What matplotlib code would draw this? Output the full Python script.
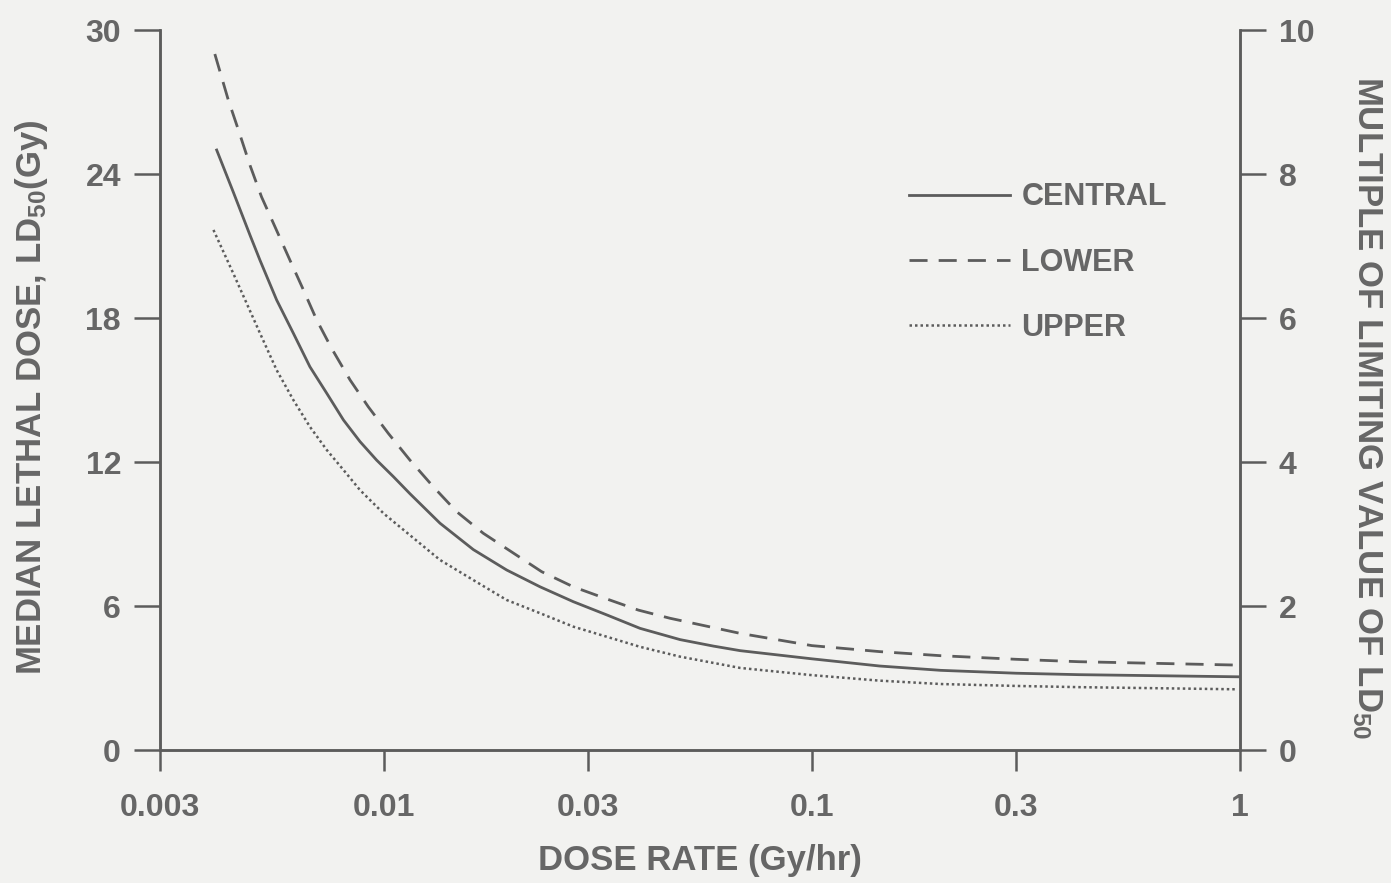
import numpy as np
import matplotlib.pyplot as plt

plt.rcParams['font.family'] = ['Liberation Sans', 'DejaVu Sans']
plt.rcParams['mathtext.default'] = 'regular'

# values (dose rate in Gy/hr, LD50 in Gy)
central_x = [0.00407, 0.00445, 0.00487, 0.00514, 0.00562, 0.00615, 0.00672, 0.00736, 0.00805,
             0.0088, 0.00962, 0.01053, 0.01151, 0.01353, 0.01619, 0.01937, 0.02318, 0.02772,
             0.03318, 0.03968, 0.04923, 0.0589, 0.068, 0.100, 0.144, 0.200, 0.300, 0.420, 1.0]
central_y = [25.0, 23.25, 21.45, 20.4, 18.75, 17.36, 15.97, 14.86, 13.75,
             12.85, 12.08, 11.39, 10.68, 9.45, 8.35, 7.5, 6.8, 6.18,
             5.63, 5.07, 4.60, 4.33, 4.14, 3.80, 3.50, 3.32, 3.20, 3.14, 3.05]

lower_x = [0.00403, 0.00433, 0.00457, 0.00487, 0.00518, 0.00557, 0.00604, 0.00649, 0.00697,
           0.00755, 0.00834, 0.0092, 0.01025, 0.01151, 0.01305, 0.0148, 0.01708, 0.0201,
           0.02338, 0.02772, 0.03288, 0.03933, 0.04662, 0.068, 0.100, 0.144, 0.200, 0.300,
           0.420, 0.98]
lower_y = [29.0, 27.1, 25.86, 24.36, 23.05, 21.8, 20.4, 19.17, 17.92,
           16.74, 15.42, 14.3, 13.19, 12.08, 10.97, 9.93, 9.03, 8.2,
           7.43, 6.8, 6.32, 5.83, 5.49, 4.86, 4.35, 4.10, 3.93, 3.78,
           3.68, 3.54]

upper_x = [0.0040, 0.00445, 0.00514, 0.00562, 0.00615, 0.00672, 0.00736, 0.00805, 0.0088,
           0.0100, 0.01353, 0.01619, 0.01937, 0.02318, 0.02772, 0.03318, 0.03968, 0.04923,
           0.068, 0.100, 0.144, 0.200, 0.300, 0.420, 0.98]
upper_y = [21.67, 19.86, 17.36, 15.83, 14.58, 13.47, 12.5, 11.67, 10.83,
           9.85, 7.92, 7.08, 6.25, 5.7, 5.14, 4.72, 4.30, 3.89,
           3.42, 3.12, 2.89, 2.75, 2.67, 2.62, 2.53]

xticks = [0.003, 0.01, 0.03, 0.1, 0.3, 1]
xtick_labels = ['0.003', '0.01', '0.03', '0.1', '0.3', '1']
left_ticks = [0, 6, 12, 18, 24, 30]
right_ticks = [0, 2, 4, 6, 8, 10]

bg = '#f2f2f0'
ink = '#5c5c5c'
txt = '#666666'

fig = plt.figure(figsize=(13.91, 8.83), dpi=100, facecolor=bg)
ax = fig.add_axes([0.115, 0.1506, 0.7764, 0.8154], facecolor=bg)

ax.plot(central_x, central_y, color=ink, lw=2.0, label='CENTRAL')
ax.plot(lower_x, lower_y, color=ink, lw=2.0, dashes=(6.5, 4), label='LOWER')
ax.plot(upper_x, upper_y, color=ink, lw=1.8, linestyle=(0, (1, 1.2)), label='UPPER')

ax.set_xscale('log')
ax.set_xlim(0.003, 1)
ax.set_ylim(0, 30)
ax.set_xticks(xticks)
ax.set_xticklabels(xtick_labels)
ax.xaxis.set_minor_locator(plt.NullLocator())
ax.set_yticks(left_ticks)

ax2 = ax.twinx()
ax2.set_ylim(0, 10)
ax2.set_yticks(right_ticks)

for a in (ax, ax2):
    for s in a.spines.values():
        s.set_color(ink)
        s.set_linewidth(1.8)
    a.tick_params(colors=ink, labelcolor=txt, labelsize=23, width=1.8, length=19, direction='out')
    for lbl in a.get_xticklabels() + a.get_yticklabels():
        lbl.set_fontweight('bold')
ax.spines['top'].set_visible(False)
ax2.spines['top'].set_visible(False)
ax.tick_params(axis='y', pad=9)
ax.tick_params(axis='x', length=15, pad=16)
ax2.tick_params(axis='y', pad=9)

ax.set_xlabel('DOSE RATE (Gy/hr)', fontsize=25, fontweight='bold', color=txt)
ax.xaxis.set_label_coords(0.5, -0.153)
ax.xaxis.label.set_va('center')

ax.set_ylabel('MEDIAN LETHAL DOSE, LD$_{50}$(Gy)', fontsize=25, fontweight='bold', color=txt)
ax.yaxis.set_label_coords(-0.1185, 0.49)
ax.yaxis.label.set_va('center')
ax.yaxis.label.set_ha('center')

ax2.set_ylabel('MULTIPLE OF LIMITING VALUE OF LD$_{50}$', fontsize=25, fontweight='bold', color=txt,
               rotation=-90)
ax2.yaxis.set_label_coords(1.1176, 0.476)
ax2.yaxis.label.set_va('center')
ax2.yaxis.label.set_ha('center')

leg = ax.legend(loc='center left', bbox_to_anchor=(0.694, 0.677), frameon=False,
                handlelength=3.3, handletextpad=0.36, labelspacing=1.15,
                borderpad=0, borderaxespad=0, prop={'size': 22, 'weight': 'bold'})
for t in leg.get_texts():
    t.set_color(txt)

plt.savefig('out.png', dpi=100, facecolor=bg)
